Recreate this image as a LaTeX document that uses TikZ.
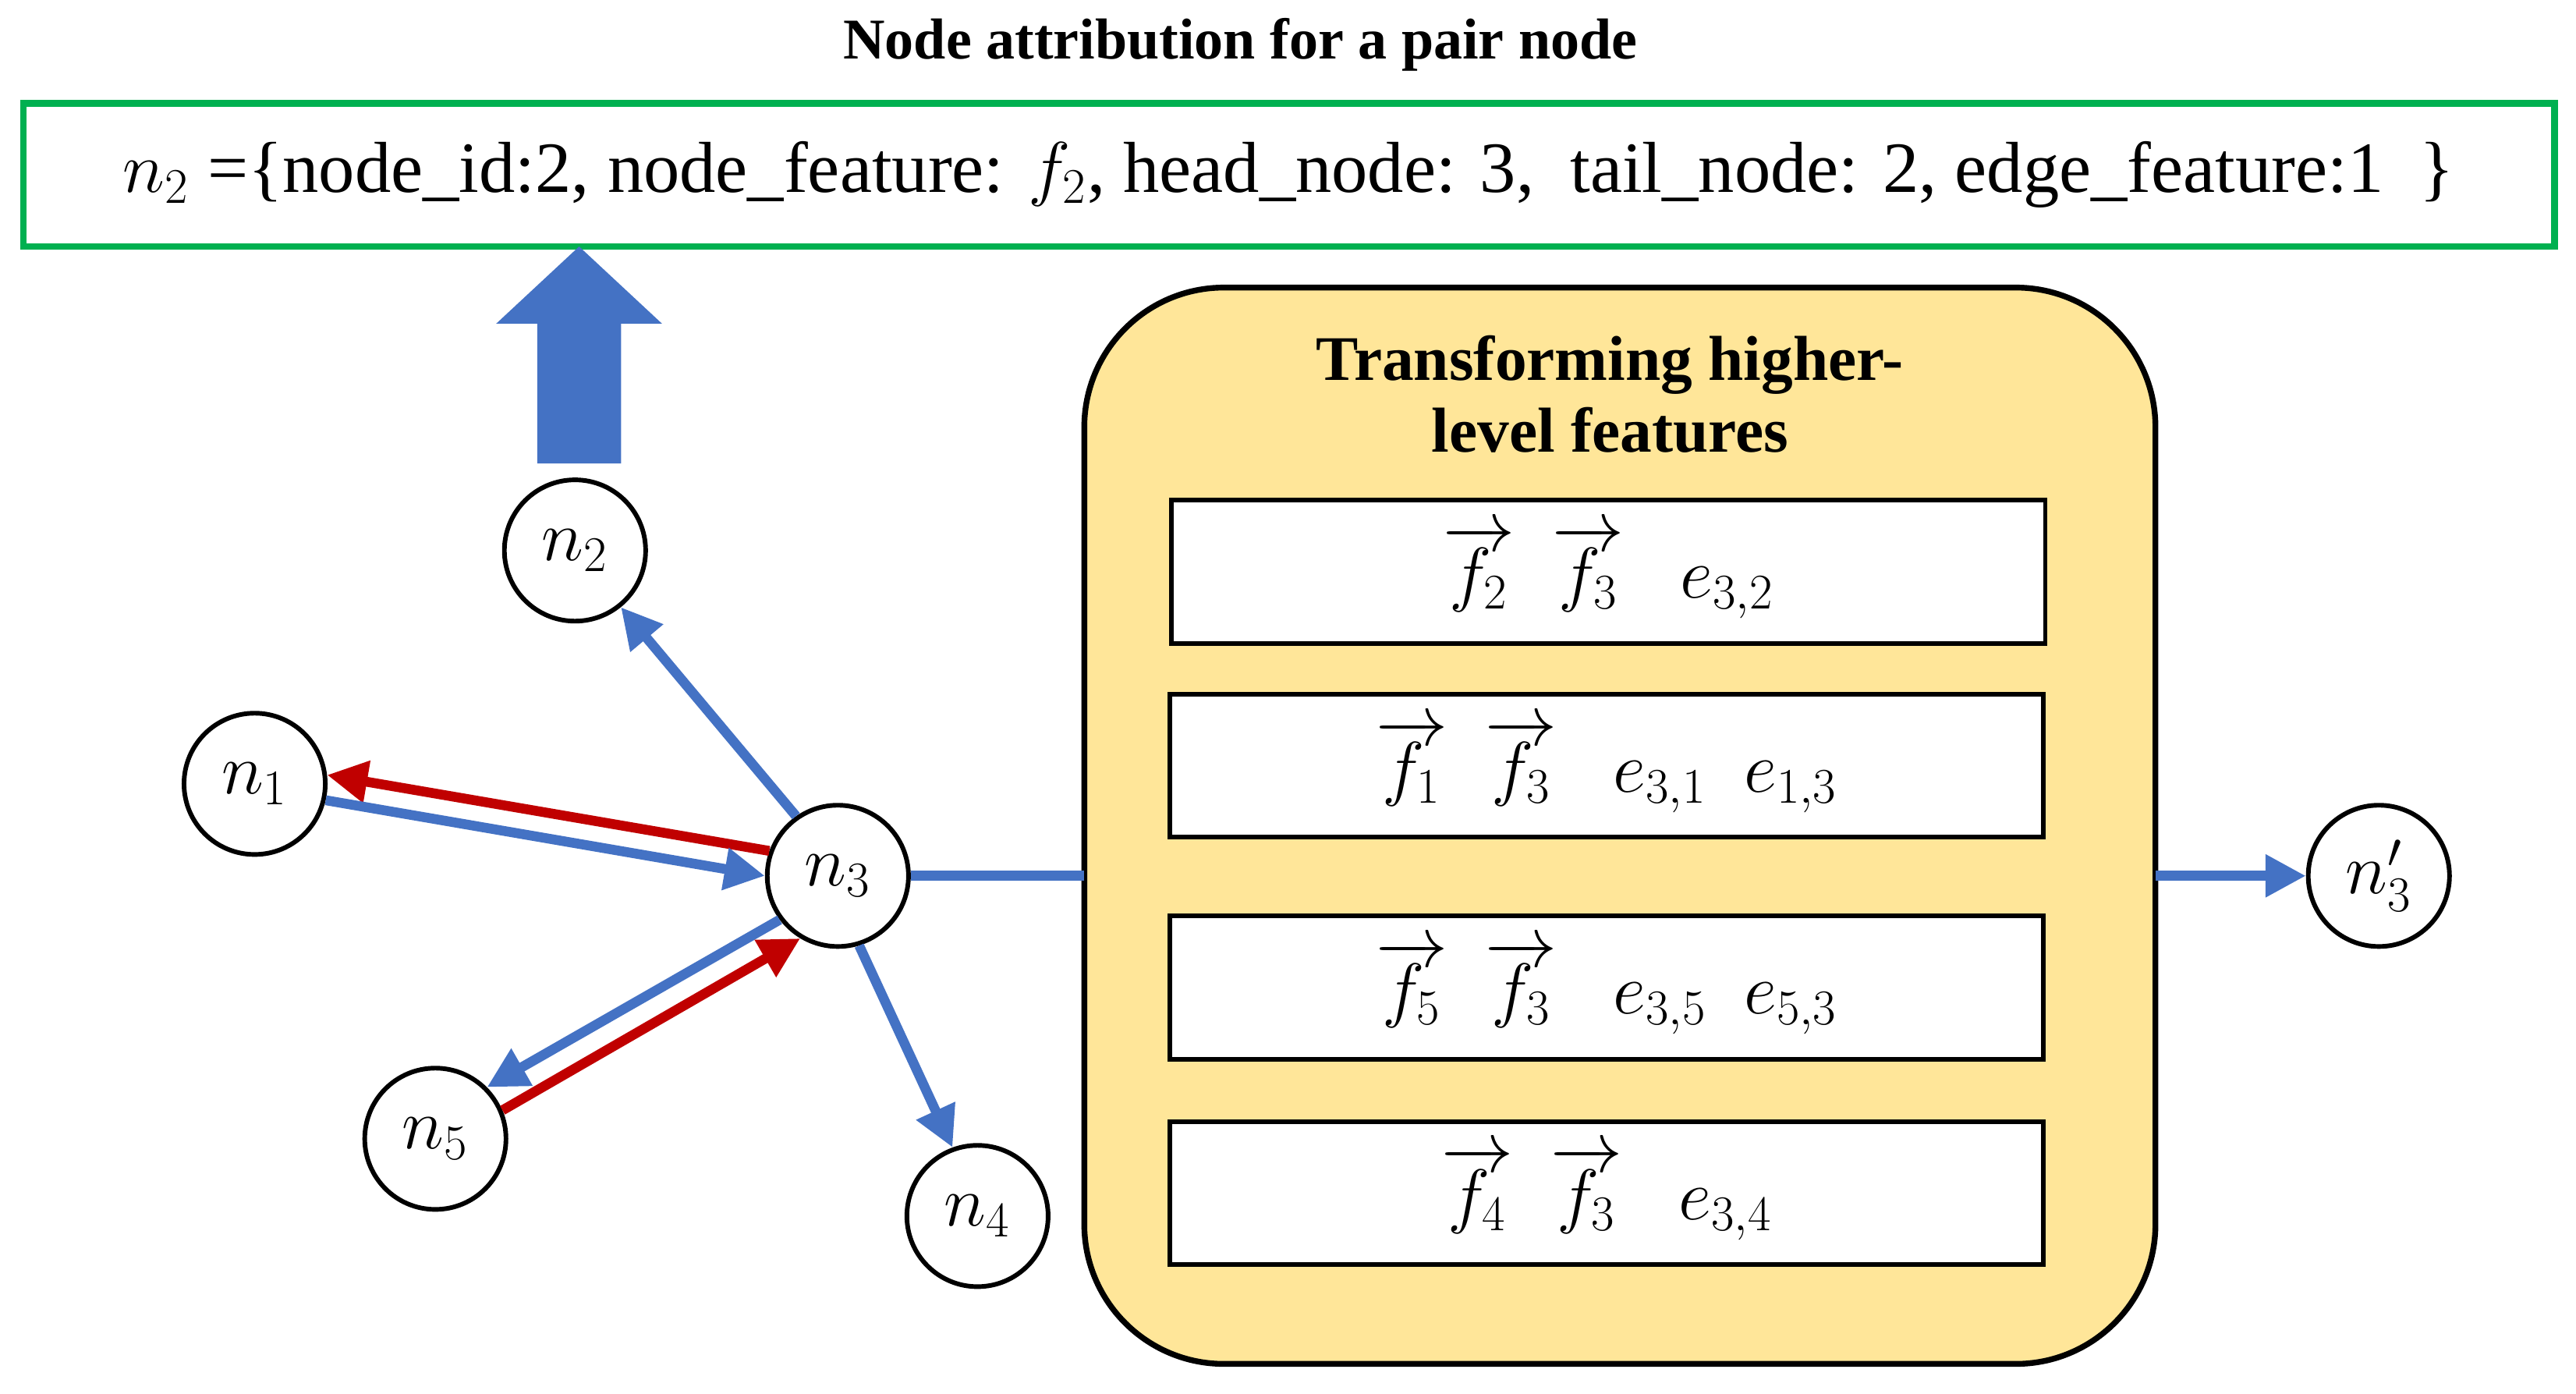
\documentclass[tikz,border=0pt]{standalone}
\usepackage{fontspec}
\setmainfont{Liberation Serif}
\usetikzlibrary{arrows.meta}
\definecolor{edgeblue}{RGB}{68,114,196}
\definecolor{edgered}{RGB}{192,0,0}
\definecolor{boxgreen}{RGB}{0,176,80}
\definecolor{boxyellow}{RGB}{255,230,153}
\newcommand{\us}{\char`\_}
\tikzset{
  pnode/.style={circle, draw, line width=1.6pt, fill=white, minimum size=1.72cm, inner sep=0pt, font=\fontsize{27}{30}\selectfont},
  feat/.style={draw, line width=1.6pt, fill=white, minimum width=10.64cm, minimum height=1.74cm, font=\fontsize{26}{28}\selectfont},
  link/.style={line width=3.4pt, -{Triangle[length=14pt,width=14pt]}},
}
\begin{document}
\begin{tikzpicture}[x=0.02cm, y=-0.02cm]
  \useasboundingbox (0,0) rectangle (1568,848);

  % title and attribute box
  \node[font=\bfseries\fontsize{20}{24}\selectfont] (title) at (755,27) {Node attribution for a pair node};
  \node[draw=boxgreen, line width=2.3pt, minimum width=30.82cm, minimum height=1.74cm, font=\fontsize{25}{28}\selectfont] (attr) at (784.5,106.5)
    {$n_2$ =\{node\us id:2, node\us feature: $f_2$, head\us node: 3,\ \ tail\us node: 2, edge\us feature:1\ \ \}};

  % transform block
  \draw[line width=2pt, fill=boxyellow, rounded corners=1.7cm] (660,175) rectangle (1312,830);
  \coordinate (tin) at (660,533);
  \coordinate (tout) at (1312,533);
  \node[font=\bfseries\fontsize{22}{25}\selectfont, align=center] (ttl) at (980,240) {Transforming higher-\\level features};
  \node[feat] (r1) at (979,348) {$\overrightarrow{f_2}\ \ \overrightarrow{f_3}\ \ \ e_{3,2}$};
  \node[feat] (r2) at (978,466) {$\overrightarrow{f_1}\ \ \overrightarrow{f_3}\ \ \ e_{3,1}\ \ e_{1,3}$};
  \node[feat] (r3) at (978,601) {$\overrightarrow{f_5}\ \ \overrightarrow{f_3}\ \ \ e_{3,5}\ \ e_{5,3}$};
  \node[feat] (r4) at (978,726) {$\overrightarrow{f_4}\ \ \overrightarrow{f_3}\ \ \ e_{3,4}$};

  % graph nodes
  \node[pnode] (n2) at (350,335) {$n_2$};
  \node[pnode] (n1) at (155,477) {$n_1$};
  \node[pnode] (n3) at (510,533) {$n_3$};
  \node[pnode] (n5) at (265,693) {$n_5$};
  \node[pnode] (n4) at (595,740) {$n_4$};
  \node[pnode] (n6) at (1448,533) {$n_3'$};

  % big arrow up to the attribute box
  \fill[edgeblue] (327,282) -- (327,197) -- (302,197) -- (352.5,150) -- (403,197) -- (378,197) -- (378,282) -- cycle;

  % edges
  \draw[link, edgeblue] (n3.125) -- (n2.-51);
  \draw[link, edgered] (n3.160) -- (n1.7);
  \draw[link, edgeblue] (n1.-13) -- (n3.180);
  \draw[link, edgeblue] (n3.217) -- (n5.45);
  \draw[link, edgered] (n5.23) -- (n3.239);
  \draw[link, edgeblue] (n3.-73) -- (n4.110);
  \draw[line width=3.4pt, edgeblue] (n3) -- (tin);
  \draw[link, edgeblue] (tout) -- (n6);
\end{tikzpicture}
\end{document}
